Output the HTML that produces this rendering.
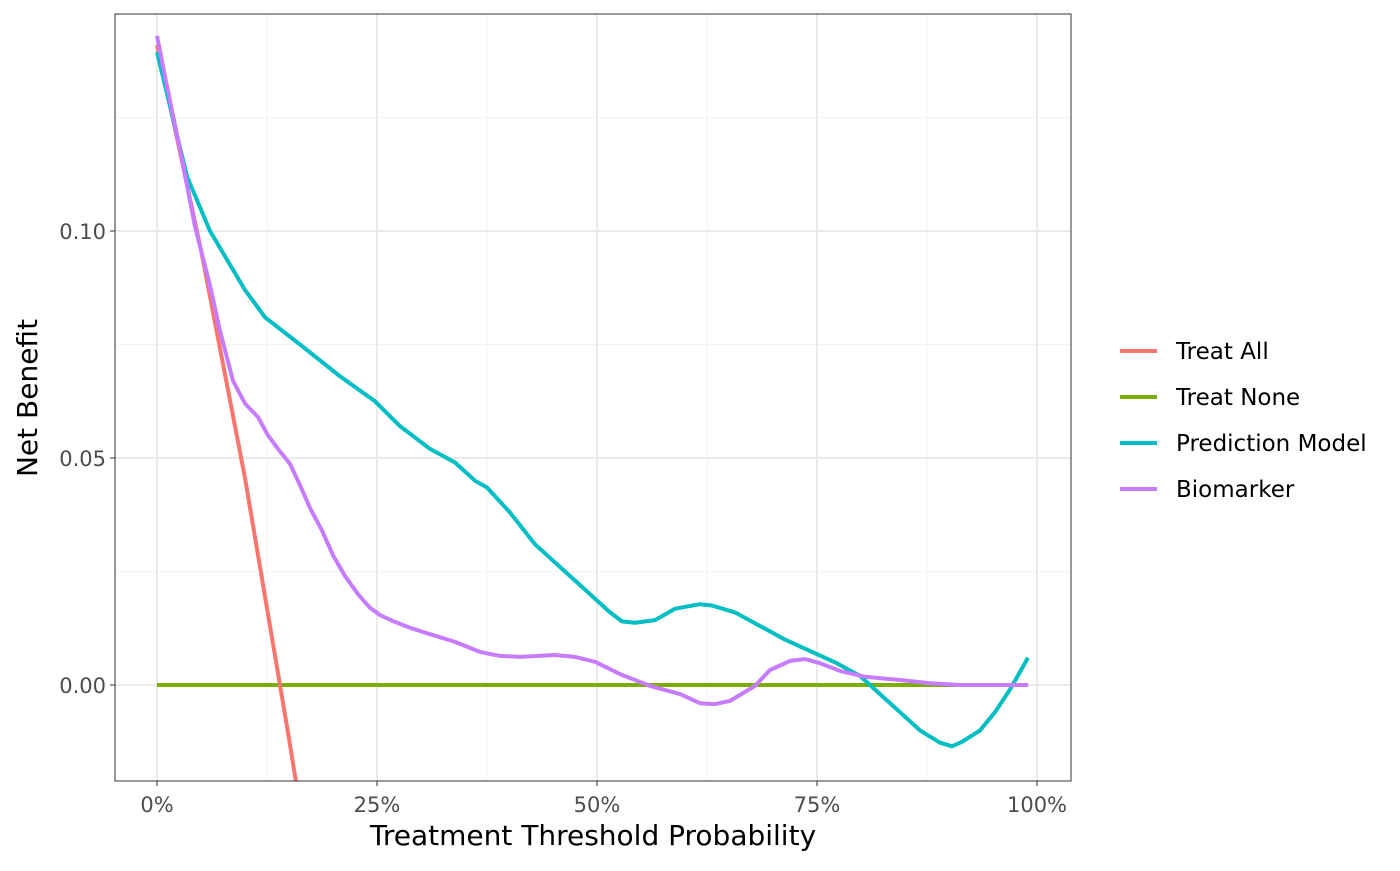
<!DOCTYPE html>
<html><head><meta charset="utf-8"><style>
body{margin:0;background:#fff;font-family:"Liberation Sans","DejaVu Sans",sans-serif}
svg text{font-family:"DejaVu Sans","Liberation Sans",sans-serif}
</style></head><body>
<svg id="chart" width="1400" height="866" xmlns="http://www.w3.org/2000/svg"></svg>
<script>
const xTicks=[0,25,50,75,100];
const xTickLabels=["0%","25%","50%","75%","100%"];
const yTicks=[0,0.05,0.10];
const yTickLabels=["0.00","0.05","0.10"];
const seriesNames=["Treat All","Treat None","Prediction Model","Biomarker"];
const seriesColors=["#F8766D","#7CAE00","#00BFC4","#C77CFF"];
const treatAllX=[0,5,10,15,16];
const treatAllY=[0.141,0.0958,0.0456,-0.0118,-0.0238];
const treatNoneX=[0,99];
const treatNoneY=[0,0];
const predPx=[157,187,210,245,265,300,340,375,400,430,455,475,487,510,535,565,595,610,622,635,655,675,700,712,735,760,785,810,835,860,880,900,920,940,952,962,980,995,1010,1028];
const predY=[0.1394,0.112,0.100,0.087,0.081,0.075,0.068,0.0625,0.057,0.052,0.049,0.045,0.0435,0.038,0.031,0.025,0.019,0.016,0.014,0.0137,0.0143,0.0168,0.0178,0.0175,0.016,0.013,0.010,0.0075,0.005,0.002,-0.002,-0.006,-0.010,-0.0127,-0.0135,-0.0125,-0.010,-0.006,-0.001,0.006];
const bioPx=[157,165,180,195,210,220,233,245,258,268,278,290,300,310,322,333,345,358,370,380,395,410,430,455,480,500,520,555,575,595,620,650,680,700,715,730,755,770,790,805,820,840,865,900,930,960,1028];
const bioY=[0.143,0.134,0.118,0.101,0.088,0.078,0.067,0.062,0.059,0.055,0.052,0.0487,0.044,0.039,0.034,0.0286,0.024,0.020,0.017,0.0154,0.0139,0.0126,0.0112,0.0095,0.0073,0.0064,0.0062,0.0066,0.0062,0.0051,0.0024,-0.0002,-0.002,-0.004,-0.0042,-0.0035,-0.0002,0.0033,0.0053,0.0057,0.0048,0.0031,0.0018,0.0011,0.0004,0,0];
const predX=predPx.map(p=>(p-157)/8.8);
const bioX=bioPx.map(p=>(p-157)/8.8);

const L=115,R=1071,T=14,B=781;
const sx=v=>157+v*8.8;
const sy=v=>685-v*4540;
const svg=document.getElementById('chart');
const NS="http://www.w3.org/2000/svg";
function mk(tag,attrs,parent){const e=document.createElementNS(NS,tag);for(const k in attrs)e.setAttribute(k,attrs[k]);(parent||svg).appendChild(e);return e;}
const defs=mk('defs',{});const cp=mk('clipPath',{id:'clip'},defs);mk('rect',{x:L,y:T,width:R-L,height:B-T},cp);
const grid=mk('g',{});


[12.5,37.5,62.5,87.5].forEach(v=>mk('line',{x1:sx(v),x2:sx(v),y1:T,y2:B,stroke:'#f3f3f3','stroke-width':1},grid));
[0.025,0.075,0.125].forEach(v=>mk('line',{x1:L,x2:R,y1:sy(v),y2:sy(v),stroke:'#f3f3f3','stroke-width':1},grid));
xTicks.forEach(v=>mk('line',{x1:sx(v),x2:sx(v),y1:T,y2:B,stroke:'#ebebeb','stroke-width':2},grid));
yTicks.forEach(v=>mk('line',{x1:L,x2:R,y1:sy(v),y2:sy(v),stroke:'#ebebeb','stroke-width':2},grid));
const lines=mk('g',{'clip-path':'url(#clip)'});
const all=[[treatAllX,treatAllY],[treatNoneX,treatNoneY],[predX,predY],[bioX,bioY]];
const lineNames=['treat-all-line','treat-none-line','prediction-model-line','biomarker-line'];
[1,0,2,3].forEach(i=>{const [xs,ys]=all[i];
 const p=mk('path',{d:xs.map((x,j)=>(j?'L':'M')+sx(x).toFixed(1)+','+sy(ys[j]).toFixed(1)).join(''),fill:'none',stroke:seriesColors[i],'stroke-width':4,'stroke-linejoin':'round'},lines);
 
 });
mk('rect',{x:L,y:T,width:R-L,height:B-T,fill:'none',stroke:'#333','stroke-width':1});
xTicks.forEach((v,i)=>{mk('line',{x1:sx(v),x2:sx(v),y1:B,y2:B+5,stroke:'#333'});
 const t=mk('text',{x:sx(v),y:B+31,'text-anchor':'middle','font-size':21,fill:'#4d4d4d'});t.textContent=xTickLabels[i];
 });
yTicks.forEach((v,i)=>{mk('line',{x1:L-5,x2:L,y1:sy(v),y2:sy(v),stroke:'#333'});
 const t=mk('text',{x:L-9,y:sy(v)+8,'text-anchor':'end','font-size':21,fill:'#4d4d4d'});t.textContent=yTickLabels[i];
 });
const xt=mk('text',{x:593,y:845,'text-anchor':'middle','font-size':28,fill:'#000'});xt.textContent='Treatment Threshold Probability';

const yt=mk('text',{x:0,y:0,transform:'translate(37,398) rotate(-90)','text-anchor':'middle','font-size':28,fill:'#000'});yt.textContent='Net Benefit';

const lg=mk('g',{});


seriesNames.forEach((n,i)=>{const y=351+i*46;
 const g=mk('g',{},lg);
 
 
 mk('line',{x1:1120,x2:1157,y1:y,y2:y,stroke:seriesColors[i],'stroke-width':4},g);
 const t=mk('text',{x:1176,y:y+8,'font-size':23,fill:'#000'},g);t.textContent=n;});
</script>
</body></html>
